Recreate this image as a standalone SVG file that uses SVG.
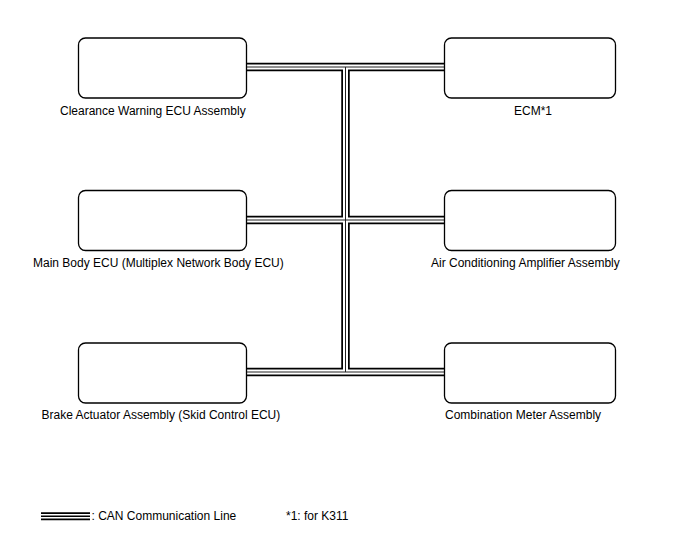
<svg xmlns="http://www.w3.org/2000/svg" width="688" height="560" viewBox="0 0 688 560">
<style>
.box{fill:#fff;stroke:#000;stroke-width:1.3}
.lbl{font-family:"Liberation Sans",Arial,sans-serif;font-size:12px;fill:#000}
.c1{stroke:#000;stroke-width:8.5;fill:none;stroke-linecap:butt}
.c2{stroke:#fff;stroke-width:5;fill:none;stroke-linecap:butt}
.c3{stroke:#222;stroke-width:1;fill:none;stroke-linecap:butt}
</style>
<rect width="688" height="560" fill="#fff"/>
<g id="connectors">
  <g class="c1">
    <line x1="246" y1="67" x2="445" y2="67"/>
    <line x1="246" y1="220" x2="445" y2="220"/>
    <line x1="246" y1="372" x2="445" y2="372"/>
    <line x1="345.5" y1="67" x2="345.5" y2="372"/>
  </g>
  <g class="c2">
    <line x1="246" y1="67" x2="445" y2="67"/>
    <line x1="246" y1="220" x2="445" y2="220"/>
    <line x1="246" y1="372" x2="445" y2="372"/>
    <line x1="345.5" y1="67" x2="345.5" y2="372"/>
  </g>
  <g class="c3">
    <line x1="246" y1="67" x2="445" y2="67"/>
    <line x1="246" y1="220" x2="445" y2="220"/>
    <line x1="246" y1="372" x2="445" y2="372"/>
    <line x1="345.5" y1="67" x2="345.5" y2="372"/>
  </g>
</g>
<g id="clearance-warning-ecu">
  <rect class="box" x="78.5" y="38" width="168" height="60" rx="7"/>
  <text class="lbl" x="60" y="115">Clearance Warning ECU Assembly</text>
</g>
<g id="ecm">
  <rect class="box" x="444.5" y="38" width="171" height="60" rx="7"/>
  <text class="lbl" x="514" y="115">ECM*1</text>
</g>
<g id="main-body-ecu">
  <rect class="box" x="78.5" y="190.5" width="168" height="60" rx="7"/>
  <text class="lbl" x="33" y="267">Main Body ECU (Multiplex Network Body ECU)</text>
</g>
<g id="air-conditioning-amplifier">
  <rect class="box" x="444.5" y="190.5" width="171" height="60" rx="7"/>
  <text class="lbl" x="431" y="267">Air Conditioning Amplifier Assembly</text>
</g>
<g id="brake-actuator">
  <rect class="box" x="78.5" y="343" width="168" height="60" rx="7"/>
  <text class="lbl" x="41.5" y="419">Brake Actuator Assembly (Skid Control ECU)</text>
</g>
<g id="combination-meter">
  <rect class="box" x="444.5" y="343" width="171" height="60" rx="7"/>
  <text class="lbl" x="445" y="419">Combination Meter Assembly</text>
</g>
<g id="legend">
  <line x1="41" y1="516.3" x2="90" y2="516.3" stroke="#000" stroke-width="8"/>
  <line x1="41" y1="516.3" x2="90" y2="516.3" stroke="#fff" stroke-width="4.4"/>
  <line x1="41" y1="516.3" x2="90" y2="516.3" stroke="#000" stroke-width="1.4"/>
  <text class="lbl" x="91.5" y="520">: CAN Communication Line</text>
  <text class="lbl" x="286" y="520">*1: for K311</text>
</g>
</svg>
